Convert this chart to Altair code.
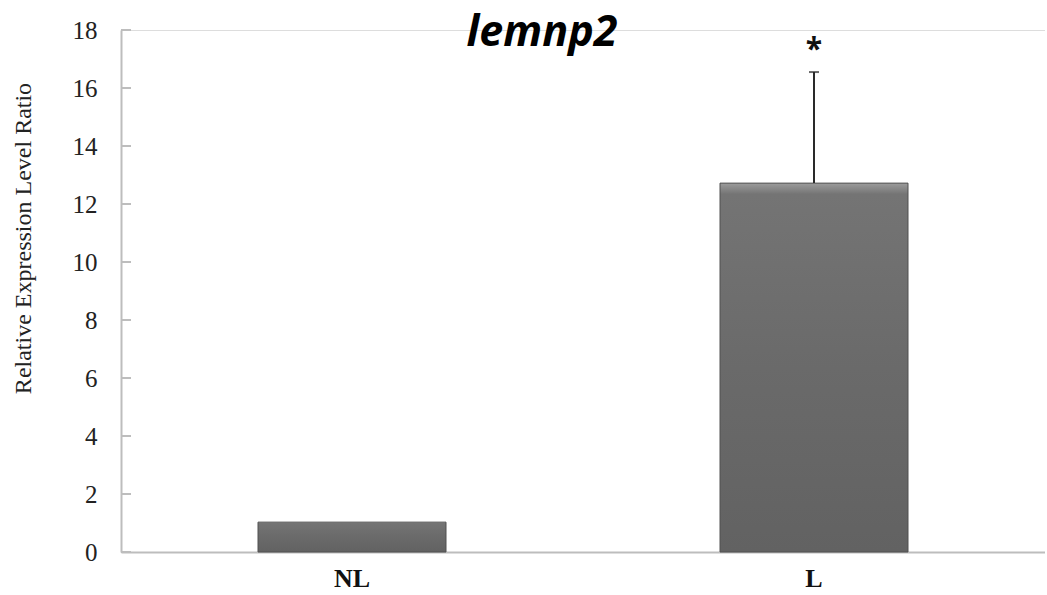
import altair as alt
import pandas as pd

categories = ["NL", "L"]
means = [1.03, 12.72]
errors = [0.0, 3.83]
signif = ["", "*"]
y_ticks = [0, 2, 4, 6, 8, 10, 12, 14, 16, 18]
chart_title = ["lemnp2"]

df = pd.DataFrame({
    "group": categories,
    "mean": means,
    "err": errors,
    "sig": signif,
})
df["upper"] = df["mean"] + df["err"]
ticks_df = pd.DataFrame({"v": y_ticks})
title_df = pd.DataFrame({"t": chart_title})

xenc = alt.X("group:N", sort=categories, title=None,
             scale=alt.Scale(paddingInner=0, paddingOuter=0),
             axis=alt.Axis(labelFont="Liberation Serif", labelFontSize=26,
                           labelFontWeight="bold", labelColor="#111111",
                           labelAngle=0, labelPadding=13, ticks=False,
                           domainColor="#bdbdbd", domainWidth=2))
yscale = alt.Scale(domain=[0, 18], nice=False)

bars = alt.Chart(df).mark_bar(
    size=188,
    stroke="#505050",
    strokeWidth=1,
    color=alt.Gradient(
        gradient="linear", x1=0, x2=0, y1=0, y2=1,
        stops=[alt.GradientStop(color="#9c9c9c", offset=0),
               alt.GradientStop(color="#747474", offset=0.03),
               alt.GradientStop(color="#6a6a6a", offset=0.5),
               alt.GradientStop(color="#626262", offset=1)]),
).encode(
    x=xenc,
    y=alt.Y("mean:Q", scale=yscale, title="Relative Expression Level Ratio",
            axis=alt.Axis(values=y_ticks, ticks=False, grid=False,
                          labelFont="Liberation Serif", labelFontSize=25,
                          labelColor="#222222", labelPadding=24,
                          domainColor="#bdbdbd", domainWidth=2,
                          titleFont="Liberation Serif", titleFontSize=24,
                          titleFontWeight="normal", titleColor="#222222",
                          titleX=-98, titleY=208, titleAlign="center",
                          titleBaseline="middle", titleAngle=-90)),
)

err_df = df[df["err"] > 0]
err = alt.Chart(err_df).mark_rule(color="#2a2a2a", strokeWidth=2).encode(
    x=alt.X("group:N", sort=categories),
    y=alt.Y("mean:Q", scale=yscale),
    y2="upper:Q",
)
cap = alt.Chart(err_df).mark_tick(color="#2a2a2a", thickness=2, size=10,
                                  orient="horizontal").encode(
    x=alt.X("group:N", sort=categories),
    y=alt.Y("upper:Q", scale=yscale),
)
star = alt.Chart(err_df).mark_text(
    font="Open Sans", fontSize=30, fontWeight="bold", color="#111111",
    baseline="middle", dy=-22,
).encode(
    x=alt.X("group:N", sort=categories),
    y=alt.Y("upper:Q", scale=yscale),
    text="sig:N",
)
yticks = alt.Chart(ticks_df).mark_rule(color="#bdbdbd", strokeWidth=2).encode(
    x=alt.value(0), x2=alt.value(10),
    y=alt.Y("v:Q", scale=yscale),
)
title = alt.Chart(title_df).mark_text(
    font="Open Sans", fontSize=43, fontStyle="italic", fontWeight="bold",
    color="#000000", align="center", baseline="alphabetic",
).encode(
    x=alt.value(421), y=alt.value(16), text="t:N",
)

chart = alt.layer(yticks, bars, err, cap, star, title).properties(
    width=924,
    height=522,
    autosize=alt.AutoSizeParams(type="none"),
    padding={"left": 121, "top": 30, "right": 0, "bottom": 40},
).configure_view(stroke=None).configure(background="white")

chart.save("out.html", embed_options={"renderer": "svg", "actions": False})
